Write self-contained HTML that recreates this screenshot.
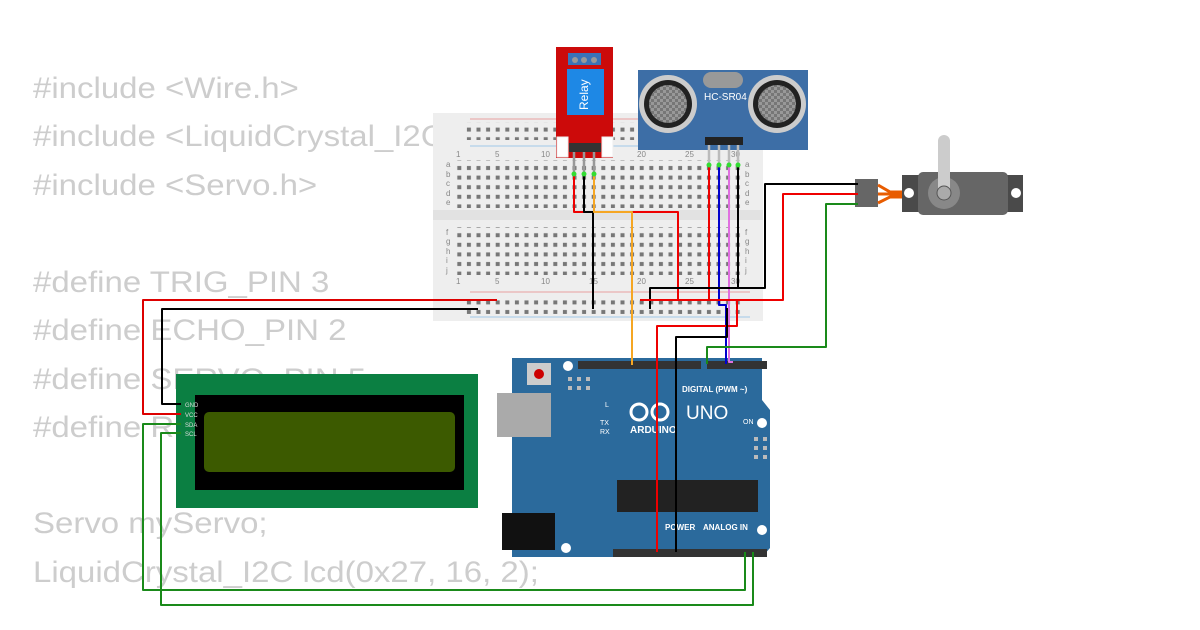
<!DOCTYPE html>
<html><head><meta charset="utf-8"><style>
html,body{margin:0;padding:0;background:#fff;width:1200px;height:630px;overflow:hidden}
svg{display:block}
.code{font-family:"Liberation Sans",sans-serif;font-size:30px;fill:#cdcdcd}
.t{font-family:"Liberation Sans",sans-serif;fill:#fff}
</style></head><body>
<svg width="1200" height="630" viewBox="0 0 1200 630" xmlns="http://www.w3.org/2000/svg">
<defs>
<pattern id="h" x="454.5" y="0" width="9.6" height="9.6" patternUnits="userSpaceOnUse"><rect x="2.8" y="2.8" width="4" height="4" fill="#777"/></pattern>
<pattern id="chk" width="6" height="6" patternUnits="userSpaceOnUse"><rect width="6" height="6" fill="#999"/><rect width="3" height="3" fill="#777"/><rect x="3" y="3" width="3" height="3" fill="#777"/></pattern>
</defs>
<g class="code" transform="scale(1.1,1)">
<text x="30" y="98">#include &lt;Wire.h&gt;</text>
<text x="30" y="146">#include &lt;LiquidCrystal_I2C.h&gt;</text>
<text x="30" y="195">#include &lt;Servo.h&gt;</text>
<text x="30" y="292">#define TRIG_PIN 3</text>
<text x="30" y="340">#define ECHO_PIN 2</text>
<text x="30" y="389">#define SERVO_PIN 5</text>
<text x="30" y="437">#define RELAY_PIN 12</text>
<text x="30" y="533">Servo myServo;</text>
<text x="30" y="582">LiquidCrystal_I2C lcd(0x27, 16, 2);</text>
</g>
<!-- breadboard -->
<rect x="433" y="113" width="330" height="208" fill="#eeeeee"/>
<rect x="433" y="210" width="330" height="10" fill="#e2e2e2"/>
<line x1="470" y1="119" x2="750" y2="119" stroke="#e8a0a0"/>
<line x1="470" y1="146" x2="750" y2="146" stroke="#a0c8e8"/>
<line x1="470" y1="292" x2="750" y2="292" stroke="#e8a0a0"/>
<line x1="470" y1="317" x2="750" y2="317" stroke="#a0c8e8"/>
<rect x="464" y="122" width="280" height="18" fill="url(#h)"/>
<rect x="464" y="296" width="280" height="18" fill="url(#h)"/>
<rect x="454" y="160" width="288" height="48" fill="url(#h)"/>
<rect x="454" y="227" width="288" height="48" fill="url(#h)"/>
<g font-family="Liberation Sans" font-size="8" fill="#888">
<text x="456" y="157">1</text><text x="495" y="157">5</text><text x="541" y="157">10</text><text x="589" y="157">15</text><text x="637" y="157">20</text><text x="685" y="157">25</text><text x="731" y="157">30</text>
<text x="456" y="284">1</text><text x="495" y="284">5</text><text x="541" y="284">10</text><text x="589" y="284">15</text><text x="637" y="284">20</text><text x="685" y="284">25</text><text x="731" y="284">30</text>
<text x="446" y="167">a</text><text x="446" y="177">b</text><text x="446" y="186">c</text><text x="446" y="196">d</text><text x="446" y="205">e</text>
<text x="446" y="235">f</text><text x="446" y="244">g</text><text x="446" y="254">h</text><text x="446" y="263">i</text><text x="446" y="273">j</text>
<text x="745" y="167">a</text><text x="745" y="177">b</text><text x="745" y="186">c</text><text x="745" y="196">d</text><text x="745" y="205">e</text>
<text x="745" y="235">f</text><text x="745" y="244">g</text><text x="745" y="254">h</text><text x="745" y="263">i</text><text x="745" y="273">j</text>
</g>
<!-- relay -->
<rect x="556" y="47" width="57" height="111" fill="#cc0a0a"/>
<rect x="568" y="53" width="33" height="12" fill="#3a73b8"/>
<circle cx="575" cy="60" r="3" fill="#999"/><circle cx="584" cy="60" r="3" fill="#999"/><circle cx="594" cy="60" r="3" fill="#999"/>
<rect x="567" y="69" width="37" height="46" fill="#1e88e5"/>
<text class="t" font-size="12" transform="translate(588 110) rotate(-90)">Relay</text>
<rect x="557" y="137" width="11" height="20" fill="#fff" stroke="#eee"/>
<rect x="602" y="137" width="11" height="20" fill="#fff" stroke="#eee"/>
<rect x="569" y="143" width="32" height="9" fill="#333"/>
<g stroke="#999" stroke-width="2.5"><line x1="574" y1="152" x2="574" y2="174"/><line x1="584" y1="152" x2="584" y2="174"/><line x1="594" y1="152" x2="594" y2="174"/></g>
<!-- HC-SR04 -->
<rect x="638" y="70" width="170" height="80" fill="#3d6ea6"/>
<rect x="703" y="72" width="40" height="16" rx="8" fill="#999"/>
<circle cx="668" cy="104" r="29" fill="#ccc"/><circle cx="668" cy="104" r="24" fill="#222"/><circle cx="668" cy="104" r="19" fill="url(#chk)"/>
<circle cx="777" cy="104" r="29" fill="#ccc"/><circle cx="777" cy="104" r="24" fill="#222"/><circle cx="777" cy="104" r="19" fill="url(#chk)"/>
<text class="t" x="704" y="100" font-size="10">HC-SR04</text>
<rect x="705" y="137" width="38" height="8" fill="#222"/>
<g stroke="#bbb" stroke-width="2.5"><line x1="709" y1="145" x2="709" y2="165"/><line x1="719" y1="145" x2="719" y2="165"/><line x1="729" y1="145" x2="729" y2="165"/><line x1="738" y1="145" x2="738" y2="165"/></g>
<!-- arduino -->
<path d="M512 358 H762 V400 L770 410 V548 L762 557 H512 Z" fill="#2b6a9c"/>
<rect x="497" y="393" width="54" height="44" fill="#aaa"/>
<rect x="502" y="513" width="53" height="37" fill="#111"/>
<rect x="527" y="363" width="24" height="22" fill="#ccc"/><circle cx="539" cy="374" r="5" fill="#c00"/>
<circle cx="568" cy="366" r="5" fill="#fff"/><circle cx="566" cy="548" r="5" fill="#fff"/><circle cx="762" cy="423" r="5" fill="#fff"/><circle cx="762" cy="530" r="5" fill="#fff"/>
<rect x="578" y="361" width="123" height="8" fill="#333"/>
<rect x="707" y="361" width="60" height="8" fill="#333"/>
<rect x="613" y="549" width="88" height="8" fill="#333"/>
<rect x="699" y="549" width="68" height="8" fill="#333"/>
<rect x="617" y="480" width="141" height="32" fill="#222"/>
<text class="t" x="682" y="392" font-size="8" font-weight="bold">DIGITAL (PWM ~)</text>
<text class="t" x="686" y="419" font-size="19">UNO</text>
<text class="t" x="630" y="433" font-size="10" font-weight="bold">ARDUINO</text>
<circle cx="639" cy="412" r="8" fill="none" stroke="#fff" stroke-width="3"/><circle cx="660" cy="412" r="8" fill="none" stroke="#fff" stroke-width="3"/>
<text class="t" x="703" y="530" font-size="8" font-weight="bold">ANALOG IN</text>
<text class="t" x="665" y="530" font-size="8" font-weight="bold">POWER</text>
<text class="t" x="600" y="425" font-size="7">TX</text><text class="t" x="600" y="434" font-size="7">RX</text><text class="t" x="605" y="407" font-size="7">L</text><text class="t" x="743" y="424" font-size="7">ON</text>
<g fill="#bbb"><rect x="568" y="377" width="4" height="4"/><rect x="577" y="377" width="4" height="4"/><rect x="586" y="377" width="4" height="4"/><rect x="568" y="386" width="4" height="4"/><rect x="577" y="386" width="4" height="4"/><rect x="586" y="386" width="4" height="4"/>
<rect x="754" y="437" width="4" height="4"/><rect x="763" y="437" width="4" height="4"/><rect x="754" y="446" width="4" height="4"/><rect x="763" y="446" width="4" height="4"/><rect x="754" y="455" width="4" height="4"/><rect x="763" y="455" width="4" height="4"/></g>
<!-- LCD -->
<rect x="176" y="374" width="302" height="134" fill="#0b7f42"/>
<rect x="195" y="395" width="269" height="95" fill="#000"/>
<rect x="204" y="412" width="251" height="60" rx="5" fill="#3c5a00"/>
<g font-family="Liberation Sans" font-size="6" fill="#ddd"><text x="185" y="407">GND</text><text x="185" y="417">VCC</text><text x="185" y="427">SDA</text><text x="185" y="436">SCL</text></g>
<!-- servo -->
<rect x="855" y="179" width="23" height="28" fill="#666"/>
<path d="M878 185 L890 192 H905 M878 194 H905 M878 203 L890 197 H905" stroke="#e85c00" stroke-width="3" fill="none"/>
<rect x="902" y="175" width="121" height="37" fill="#4a4a4a"/>
<rect x="918" y="172" width="90" height="43" rx="5" fill="#666"/>
<circle cx="944" cy="193" r="16" fill="#888"/>
<rect x="938" y="135" width="12" height="62" rx="6" fill="#ccc"/>
<circle cx="944" cy="193" r="7" fill="#aaa" stroke="#555"/>
<circle cx="1016" cy="193" r="5" fill="#fff"/><circle cx="909" cy="193" r="5" fill="#fff"/>
<!-- wires -->
<g fill="none" stroke-width="2" stroke-linejoin="round">
<path d="M574 174 V212 H678 V300" stroke="#e00"/>
<path d="M584 174 V212 H593 V309" stroke="#000"/>
<path d="M594 174 V212 H632 V365" stroke="#f5a623"/>
<path d="M709 165 V300" stroke="#e00"/>
<path d="M719 165 V305 H726 V364" stroke="#00c"/>
<path d="M729 165 V362 H733" stroke="#e070e0"/>
<path d="M738 165 V288 H650 V309" stroke="#000"/>
<path d="M738 288 H765 V184 H858" stroke="#000"/>
<path d="M640 300 H783 V194 H858" stroke="#e00"/>
<path d="M737 300 V326 H657 V552" stroke="#e00"/>
<path d="M727 308 V337 H676 V552" stroke="#000"/>
<path d="M858 204 H826 V347 H707 V364" stroke="#1a8a1a"/>
<path d="M497 300 H143 V414 H181" stroke="#d00"/>
<path d="M478 309 H162 V404 H181" stroke="#000"/>
<path d="M181 424 H143 V590 H745 V552" stroke="#1a8a1a"/>
<path d="M181 433 H161 V605 H753 V552" stroke="#1a8a1a"/>
</g>
<g fill="#3d3"><circle cx="574" cy="174" r="2.5"/><circle cx="584" cy="174" r="2.5"/><circle cx="594" cy="174" r="2.5"/><circle cx="709" cy="165" r="2.5"/><circle cx="719" cy="165" r="2.5"/><circle cx="729" cy="165" r="2.5"/><circle cx="738" cy="165" r="2.5"/></g>
</svg>
</body></html>
